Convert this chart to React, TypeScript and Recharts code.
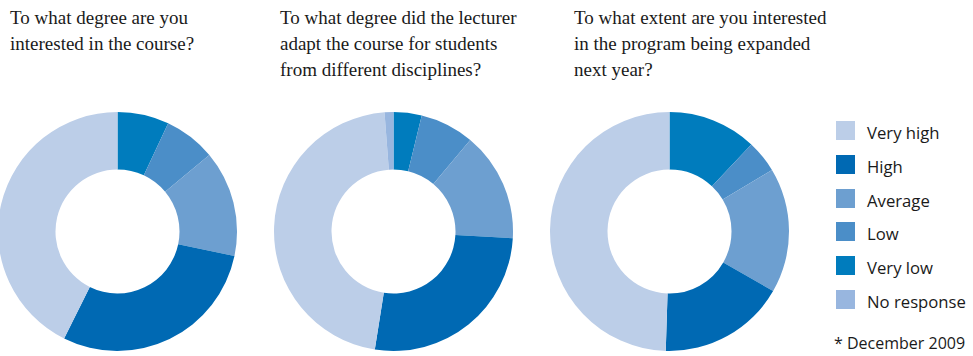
import React from "react";
import { PieChart, Pie, Cell } from "recharts";

// Slice order, clockwise from 12 o'clock
const categories = ["Very low", "Low", "Average", "High", "Very high", "No response"];
// Legend order
const legendOrder = ["Very high", "High", "Average", "Low", "Very low", "No response"];

const courseInterest = [7, 7, 14.4, 29.2, 42.8, 0];
const lecturerAdapt = [3.8, 7.3, 14.8, 26.6, 46.3, 1.2];
const programExpansion = [12, 4.4, 16.9, 17.2, 49.5, 0];

const titles = [
  ["To what degree are you", "interested in the course?"],
  ["To what degree did the lecturer", "adapt the course for students", "from different disciplines?"],
  ["To what extent are you interested", "in the program being expanded", "next year?"],
];

const footnote = "* December 2009";

const colors: Record<string, string> = {
  "Very high": "#bccee8",
  High: "#0069b3",
  Average: "#6d9fd0",
  Low: "#4b8ec8",
  "Very low": "#007cbd",
  "No response": "#98b6df",
};

const series = [courseInterest, lecturerAdapt, programExpansion];
const centersX = [117.5, 393.5, 669.5];
const titleX = [10, 280, 574];

const makeData = (vals: number[]) =>
  categories.map((name, i) => ({ name, value: vals[i] }));

export default function App() {
  return (
    <div
      style={{
        position: "absolute",
        left: 0,
        top: 0,
        width: 973,
        height: 356,
        background: "#fff",
        overflow: "hidden",
      }}
    >
      {titles.map((lines, ci) => (
        <div
          key={ci}
          style={{
            position: "absolute",
            left: titleX[ci],
            top: 4.5,
            fontFamily: "'Liberation Serif', serif",
            fontSize: 19,
            lineHeight: "26px",
            color: "#1a1a1a",
            whiteSpace: "nowrap",
          }}
        >
          {lines.map((l, i) => (
            <div key={i}>{l}</div>
          ))}
        </div>
      ))}
      <div style={{ position: "absolute", left: 0, top: 0 }}>
        <PieChart width={973} height={356} margin={{ top: 0, right: 0, bottom: 0, left: 0 }}>
          {series.map((vals, si) => (
            <Pie
              key={si}
              data={makeData(vals)}
              dataKey="value"
              nameKey="name"
              cx={centersX[si]}
              cy={231.5}
              innerRadius={62}
              outerRadius={119.5}
              startAngle={90}
              endAngle={-270}
              stroke="none"
              isAnimationActive={false}
            >
              {categories.map((c) => (
                <Cell key={c} fill={colors[c]} />
              ))}
            </Pie>
          ))}
        </PieChart>
      </div>
      {legendOrder.map((c, i) => (
        <div
          key={c}
          style={{
            position: "absolute",
            left: 836,
            top: 121 + i * 33.8,
            height: 19,
            display: "flex",
            alignItems: "center",
            whiteSpace: "nowrap",
          }}
        >
          <div style={{ width: 19, height: 19, background: colors[c] }} />
          <div
            style={{
              marginLeft: 12,
              position: "relative",
              top: 2,
              fontFamily: "'Open Sans', sans-serif",
              fontSize: 16.7,
              color: "#1a1a1a",
            }}
          >
            {c}
          </div>
        </div>
      ))}
      <div
        style={{
          position: "absolute",
          left: 834,
          top: 333,
          fontFamily: "'Open Sans', sans-serif",
          fontSize: 16,
          lineHeight: "20px",
          color: "#1a1a1a",
          whiteSpace: "nowrap",
        }}
      >
        {footnote}
      </div>
    </div>
  );
}
